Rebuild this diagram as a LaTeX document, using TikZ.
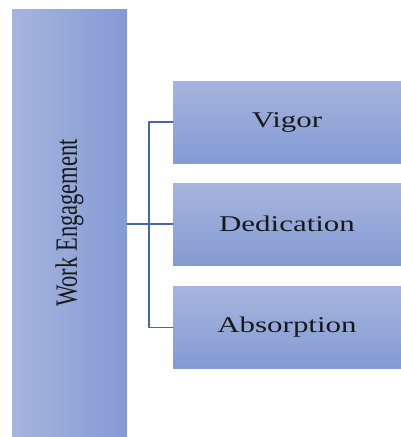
\documentclass[tikz,border=0pt]{standalone}
\usepackage{fontspec}
\setmainfont{Liberation Serif}
\usepackage{graphicx}

\definecolor{boxlight}{RGB}{166,181,222}
\definecolor{boxdark}{RGB}{132,154,211}
\definecolor{linkblue}{RGB}{72,102,162}
\definecolor{inkgray}{RGB}{25,25,25}

\tikzset{
  mainbox/.style={inner sep=0pt, minimum width=115pt, minimum height=428pt,
    left color=boxlight, right color=boxdark, text=inkgray},
  subbox/.style={inner sep=0pt, minimum width=228pt, minimum height=82pt,
    top color=boxlight, bottom color=boxdark, text=inkgray},
  link/.style={draw=linkblue, line width=1.3pt}
}

\newcommand{\boxfont}{\fontsize{22.5}{27}\selectfont}
\newcommand{\wide}[1]{\scalebox{1.375}[1]{#1}}

\begin{document}
\begin{tikzpicture}[x=1pt, y=-1pt, line cap=round, line join=round]
  \useasboundingbox (0,0) rectangle (401,437);

  % Main construct on the left
  \node[mainbox] (we) at (69.5,223) {\wide{\rotatebox{90}{\boxfont Work Engagement}}};

  % The three dimensions
  \node[subbox] (vig) at (287,122) {\wide{\boxfont Vigor}};
  \node[subbox] (ded) at (287,224) {\wide{\boxfont Dedication}};
  \node[subbox] (abs) at (287,327.5) {\wide{\boxfont Absorption}};

  % Bracket connector
  \coordinate (jt) at (149,224);
  \draw[link] (we.east |- ded.west) -- (ded.west);
  \draw[link] (vig.west) -| (jt) |- (abs.west);

\end{tikzpicture}
\end{document}
